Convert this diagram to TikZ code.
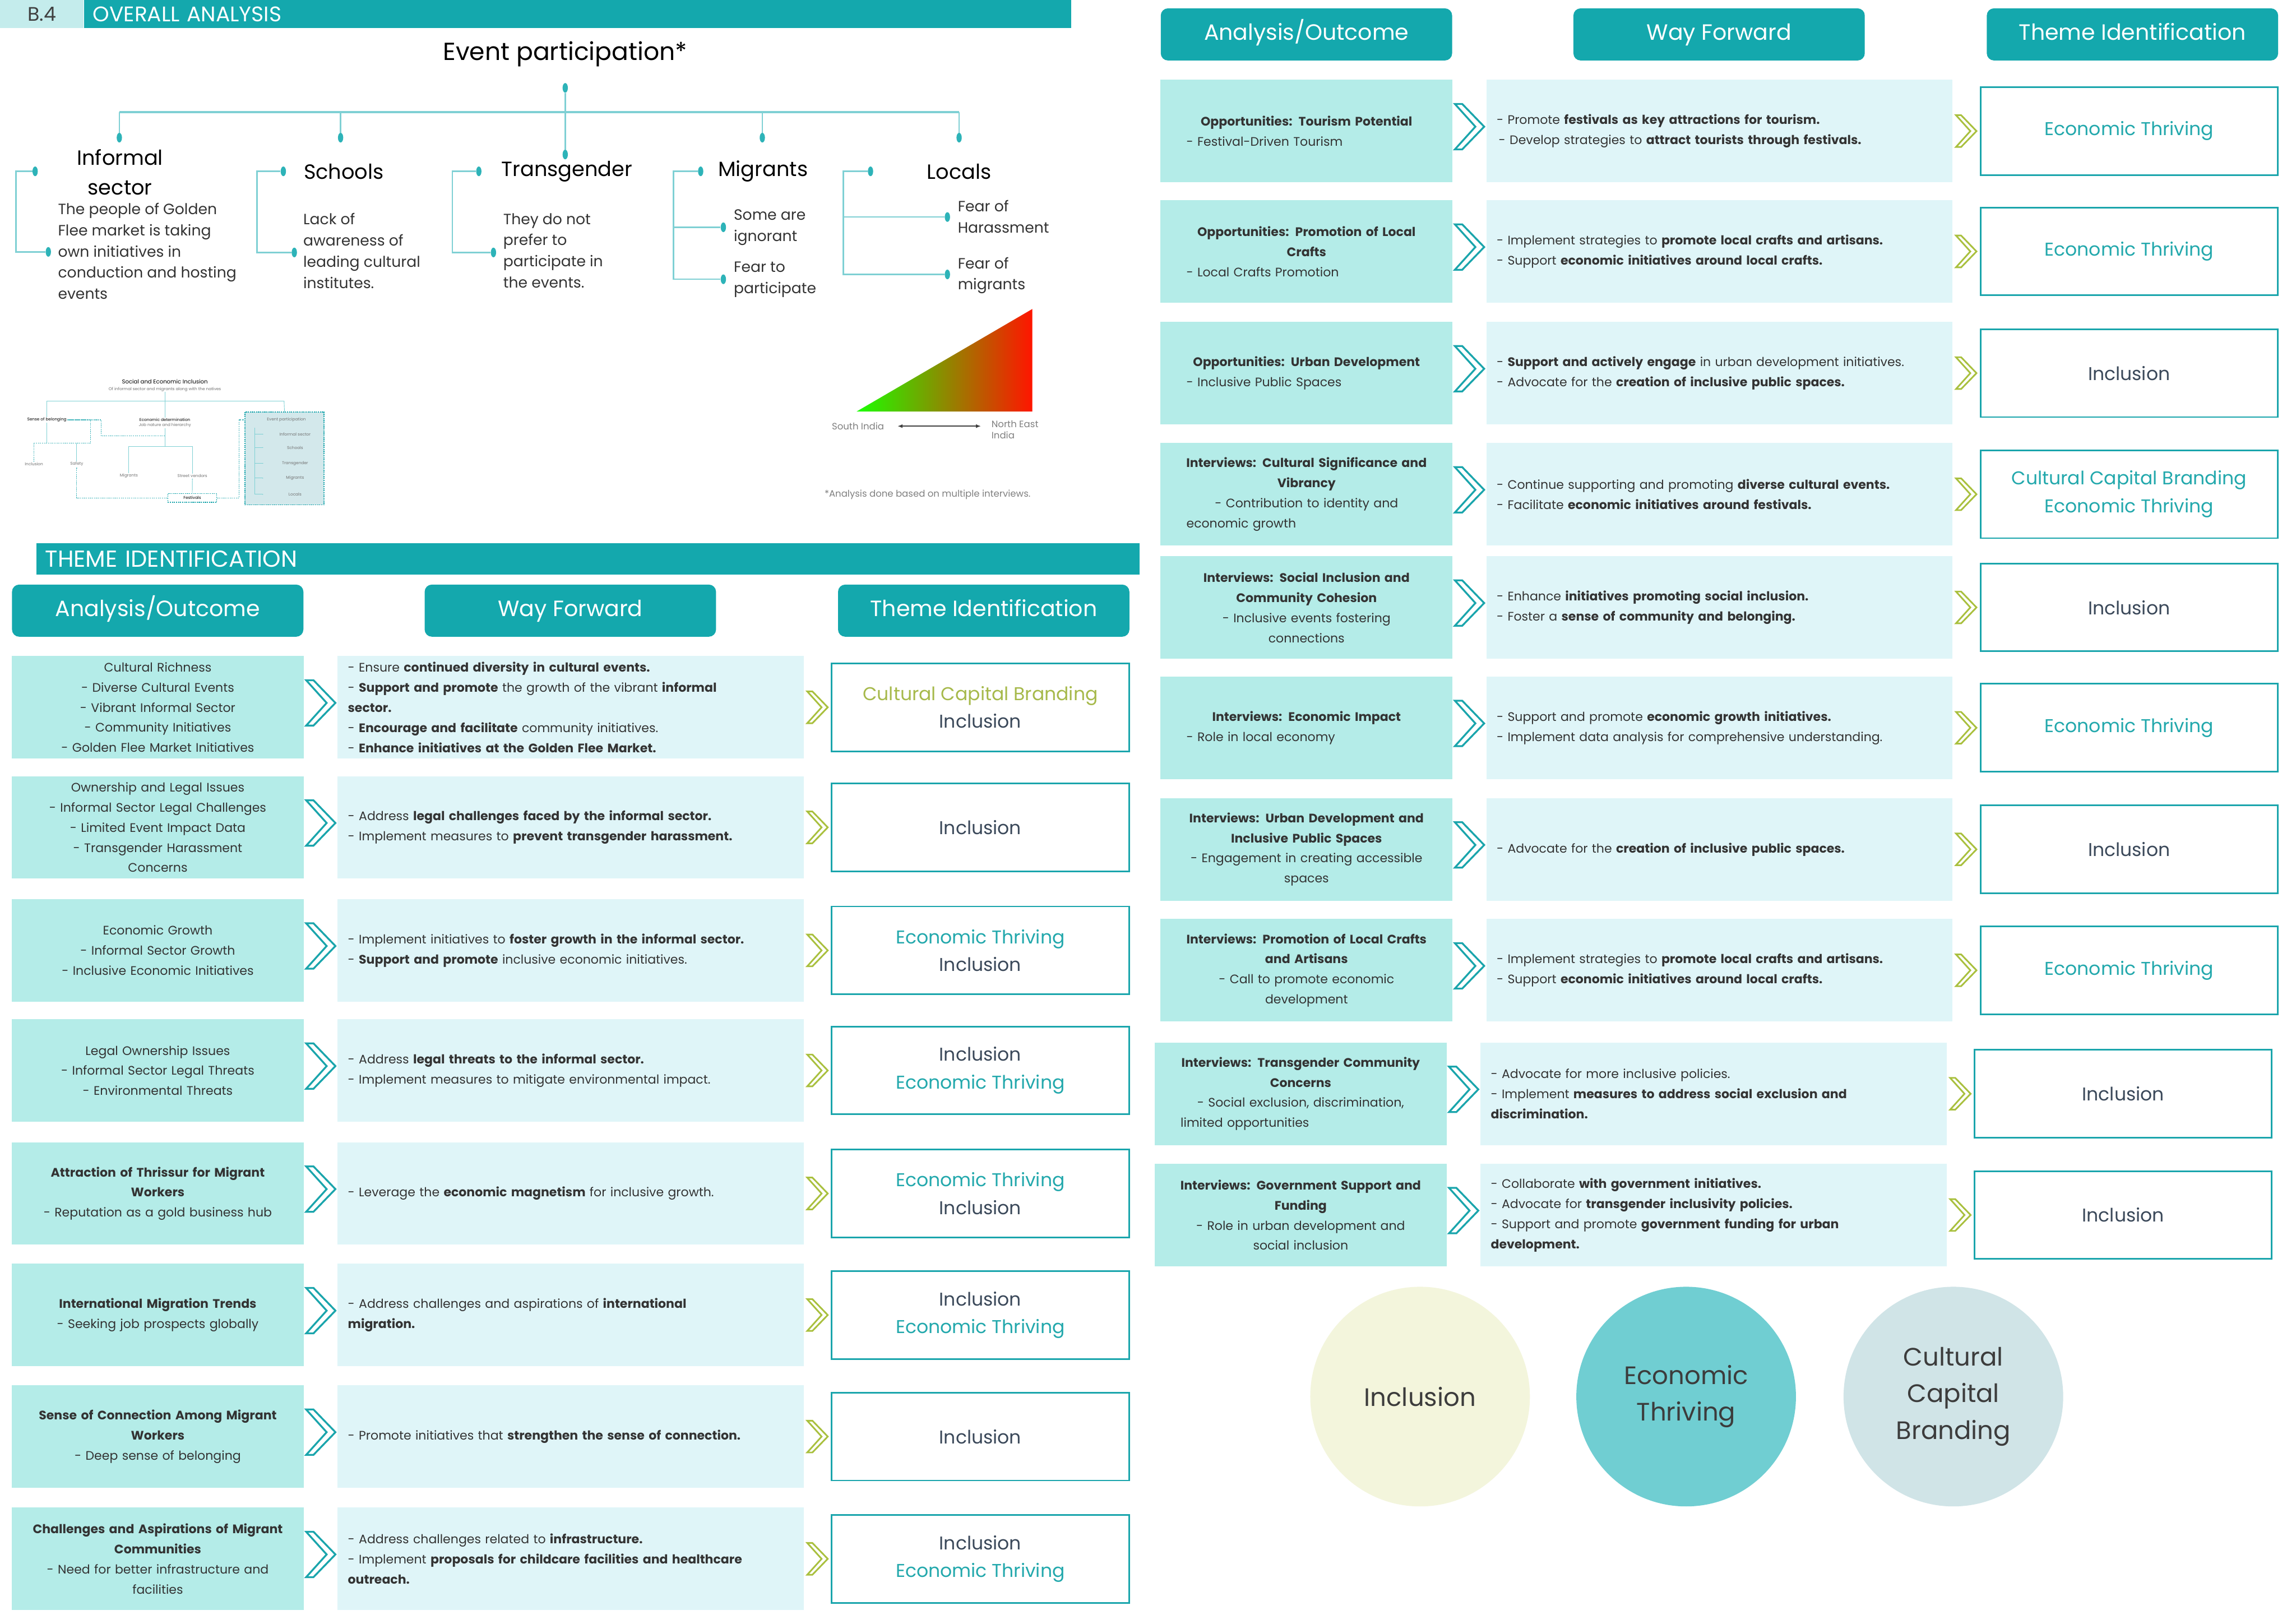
\documentclass[tikz,border=0pt]{standalone}
\usepackage{fontspec}
\setmainfont{Poppins}
\usetikzlibrary{arrows.meta,positioning,calc,shapes.geometric}

\definecolor{tealhead}{HTML}{14A8AD}
\definecolor{bcell}{HTML}{C4ECEC}
\definecolor{anfill}{HTML}{B4ECE8}
\definecolor{wayfill}{HTML}{DFF5F8}
\definecolor{tealline}{HTML}{1AA5AC}
\definecolor{olivechev}{HTML}{A9C03E}
\definecolor{ccbgreen}{HTML}{A6B94A}
\definecolor{inctext}{HTML}{3A4859}
\definecolor{ecotext}{HTML}{22A8AC}
\definecolor{treeln}{HTML}{7FD0D4}
\definecolor{treedot}{HTML}{2DB3B8}
\definecolor{bodytext}{HTML}{333333}
\definecolor{thumbfill}{HTML}{D3E8EB}
\definecolor{circinc}{HTML}{F3F5DC}
\definecolor{circeco}{HTML}{70CED2}
\definecolor{circccb}{HTML}{D0E4E7}
\definecolor{circtext}{HTML}{3C3C3C}
\definecolor{grnbright}{HTML}{1BFF00}
\definecolor{redbright}{HTML}{FF1500}

\newcommand{\tabfont}{\fontsize{12}{19.5}\selectfont}
\newcommand{\tInc}{\textcolor{inctext}{Inclusion}}
\newcommand{\tEco}{\textcolor{ecotext}{Economic Thriving}}
\newcommand{\tCcbG}{\textcolor{ccbgreen}{Cultural Capital Branding}}
\newcommand{\tCcbT}{\textcolor{ecotext}{Cultural Capital Branding}}
\newcommand{\leftln}[1]{\makebox[8.2cm][l]{#1}}

\tikzset{
  secbar/.style={fill=tealhead, text=white, anchor=north west, align=left,
    inner xsep=0.3cm, inner ysep=0pt},
  bcellbox/.style={fill=bcell, text=darkgray, anchor=north west, inner sep=0pt,
    minimum width=2.85cm, minimum height=0.95cm, font=\fontsize{19}{22}\selectfont},
  headbox/.style={fill=tealhead, rounded corners=7pt, text=white,
    minimum width=9.95cm, minimum height=1.78cm, text height=16pt, text depth=5pt,
    font=\fontsize{21.5}{25}\selectfont},
  anbox/.style={fill=anfill, minimum width=9.98cm, minimum height=3.5cm,
    text width=9.6cm, align=center, inner ysep=0pt, font=\tabfont, text=bodytext},
  waybox/.style={fill=wayfill, minimum width=15.92cm, minimum height=3.5cm,
    text width=15.22cm, align=left, inner ysep=0pt, font=\tabfont, text=bodytext},
  thbox/.style={draw=tealline, line width=1.6pt, fill=white, minimum width=10.15cm,
    minimum height=3cm, align=center, font=\fontsize{18}{27}\selectfont},
  tealchev/.style={draw=tealline, line width=1.8pt, fill=white},
  greenchev/.style={draw=olivechev, line width=1.6pt, fill=white},
  chevron/.pic={\path[pic actions] (-10,-15.5) -- (-5,-15.5) -- (10,0) -- (-5,15.5)
    -- (-10,15.5) -- (4,0) -- cycle;},
  treeline/.style={draw=treeln, line width=1.4pt},
  tdot/.style={ellipse, fill=treedot, minimum width=0.18cm, minimum height=0.33cm, inner sep=0pt},
  thead/.style={font=\fontsize{20}{29}\selectfont, text=black},
  tdesc/.style={font=\fontsize{14.5}{20.6}\selectfont, text=bodytext, align=left,
    anchor=north west, inner sep=0pt},
  thumbtxt/.style={font=\fontsize{4}{5}\selectfont, text=gray!90!black, inner sep=0.4pt},
  thumbln/.style={draw=treeln, line width=0.5pt},
  thumbdash/.style={draw=tealline!80, line width=0.6pt, dash pattern=on 1.2pt off 0.8pt},
  smallgray/.style={font=\fontsize{9}{11}\selectfont, text=gray, inner sep=0pt},
  themecirc/.style={circle, minimum size=7.5cm, inner sep=0pt, align=center,
    font=\fontsize{24.5}{35.5}\selectfont, text=circtext},
}

% one row of the theme table: id, y, analysis, way forward, theme
\newcommand{\themerow}[5]{%
  \node[anbox] (a#1) at (107.75,#2) {#3};
  \node[waybox] (w#1) at (389.8,#2) {#4};
  \node[thbox] (t#1) at (669.5,#2) {#5};
  \pic[tealchev] at ($(a#1.east)!0.5!(w#1.west)+(0,-3)$) {chevron};
  \pic[greenchev, scale=0.7] at ($(w#1.east)!0.5!(t#1.west)$) {chevron};
}

\begin{document}
\begin{tikzpicture}[x=0.05cm, y=-0.05cm]
  \useasboundingbox (0,0) rectangle (1568,1109);
  \fill[white] (0,0) rectangle (1568,1109);

  %% ---- B.4 overall analysis ----
  \node[bcellbox] (bcell) at (0,0) {B.4};
  \node[secbar, minimum height=0.95cm, text width=33.1cm,
    font=\fontsize{20.5}{23}\selectfont] (ovbar) at (bcell.north east) {OVERALL ANALYSIS};

  \node[font=\fontsize{24}{28}\selectfont] (evt) at (386,37) {Event participation*};

  \node[tdot] (d0)   at (386,60)    {};
  \node[tdot] (dinf) at (81.5,94)   {};
  \node[tdot] (dsch) at (232.6,94)  {};
  \node[tdot] (dtra) at (386,105.5) {};
  \node[tdot] (dmig) at (520.6,94)  {};
  \node[tdot] (dloc) at (655,94)    {};
  \coordinate (hl) at (81.5,76.5);
  \coordinate (hr) at (655,76.5);

  \draw[treeline, line width=2pt] (hl) -- (hr);
  \draw[treeline] (d0) -- (dtra);
  \foreach \d in {dinf,dsch,dmig,dloc}
    \draw[treeline] (\d) -- (\d |- hl);

  \node[thead, align=center] (hinf) at (82,117.5) {Informal\\sector};
  \node[thead, anchor=west] (hsch) at (205,117) {Schools};
  \node[thead, anchor=west] (htra) at (340,117) {Transgender};
  \node[thead, anchor=west] (hmig) at (488,117) {Migrants};
  \node[thead] (hloc) at (655,117) {Locals};

  % side brackets
  \node[tdot] (binf1) at (24,117) {};
  \node[tdot] (binf2) at (33,172) {};
  \draw[treeline] (binf1) -- ++(-13,0) |- (binf2);
  \node[tdot] (bsch1) at (193.5,117) {};
  \node[tdot] (bsch2) at (201,172.4) {};
  \draw[treeline] (bsch1) -- ++(-18,0) |- (bsch2);
  \node[tdot] (btra1) at (327,117) {};
  \node[tdot] (btra2) at (337,172.4) {};
  \draw[treeline] (btra1) -- ++(-18,0) |- (btra2);
  \node[tdot] (bmig0) at (478.5,117) {};
  \node[tdot] (bmig1) at (494,155.2) {};
  \node[tdot] (bmig2) at (494,190.7) {};
  \coordinate (bmigx) at (460,117);
  \draw[treeline] (bmig0) -- (bmigx) |- (bmig2);
  \draw[treeline] (bmigx |- bmig1) -- (bmig1);
  \node[tdot] (bloc0) at (594.5,117) {};
  \node[tdot] (bloc1) at (647,148.2) {};
  \node[tdot] (bloc2) at (647,187.4) {};
  \coordinate (blocx) at (576,117);
  \draw[treeline] (bloc0) -- (blocx) |- (bloc2);
  \draw[treeline] (blocx |- bloc1) -- (bloc1);

  \node[tdesc] (xinf) at (39.5,138.5) {The people of Golden\\Flee market is taking\\own initiatives in\\conduction and hosting\\events};
  \node[tdesc] (xsch) at (207,145.5) {Lack of\\awareness of\\leading cultural\\institutes.};
  \node[tdesc] (xtra) at (343.6,145.5) {They do not\\prefer to\\participate in\\the events.};
  \node[tdesc] (xmig1) at (501,143) {Some are\\ignorant};
  \node[tdesc] (xmig2) at (501,178.5) {Fear to\\participate};
  \node[tdesc] (xloc1) at (654,136.5) {Fear of\\Harassment};
  \node[tdesc] (xloc2) at (654,175.5) {Fear of\\migrants};

  %% ---- thumbnail of the framework ----
  \begin{scope}[every node/.style={thumbtxt}]
    \node[font=\fontsize{5.5}{6}\selectfont, text=black] (tsei) at (112.6,260.4) {Social and Economic Inclusion};
    \node (tsub) at (112.6,265.8) {Of informal sector and migrants along with the natives};
    \coordinate (tbl) at (32,273.8);
    \coordinate (tbr) at (194,273.8);
    \draw[thumbln] (tsub.south) -- (tsub.south |- tbl);
    \draw[thumbln] (tbl) -- (tbr);
    \node[text=black] (tsb) at (32,286.7) {Sense of belonging};
    \node[text=black] (ted) at (112.6,286.7) {Economic determination};
    \node (tjob) at (112.6,290.6) {Job nature and hierarchy};
    \node[draw=tealline, dash pattern=on 1.2pt off 0.8pt, line width=0.8pt, fill=thumbfill,
      minimum width=2.7cm, minimum height=3.175cm, anchor=north west] (tbox) at (167,281) {};
    \draw[thumbln] (tbl) -- (tsb.north);
    \draw[thumbln] (tsub.south |- tbl) -- (ted.north);
    \draw[thumbln] (tbr) -- (tbox.north);
    \node (tep) at (195.6,286.7) {Event participation};
    \node (ti1) at (201.5,296.5) {Informal sector};
    \node (ti2) at (201.5,305.6) {Schools};
    \node (ti3) at (201.5,316.4) {Transgender};
    \node (ti4) at (201.5,326.5) {Migrants};
    \node (ti5) at (201.5,337.6) {Locals};
    \coordinate (tvl) at (174,292);
    \draw[thumbln] (tvl) -- (tvl |- ti5);
    \foreach \i in {ti1,ti2,ti3,ti4,ti5}
      \draw[thumbln, -{Latex[length=1.2pt]}] (tvl |- \i) -- ++(6,0);
    % left branch
    \coordinate (tsbj) at (32,302.7);
    \coordinate (tsbr) at (61.7,302.7);
    \node (tinc) at (23.2,317) {Inclusion};
    \node (tsaf) at (52.4,317) {Safety};
    \draw[thumbln] (tsb.south) -- (tsbj);
    \draw[thumbdash] (tinc.north) |- (tsbr) |- (tsb.east);
    \draw[thumbln] (tsaf.north) -- (tsaf.north |- tsbj);
    \coordinate (tedd) at (112.6,297.8);
    \coordinate (tsbk) at (69,286.7);
    \draw[thumbdash, -{Latex[length=1.5pt]}] (tedd) -| (tsbk) -- (tsb.east);
    % middle branch
    \coordinate (tedj) at (112.6,305);
    \node (tmig) at (88,325) {Migrants};
    \node (tstv) at (131.4,325) {Street vendors};
    \draw[thumbln] (tjob.south) -- (tedj);
    \draw[thumbln] (tmig.north) |- (tedj) -| (tstv.north);
    \node[draw=tealline, dash pattern=on 1.2pt off 0.8pt, line width=0.8pt, fill=white,
      minimum width=1.675cm, minimum height=0.3cm, text=black] (tfes) at (131.3,340) {Festivals};
    \draw[thumbln, -{Latex[length=1.5pt]}] (tfes.north) -- (tstv.south);
    \draw[thumbdash, -{Latex[length=1.5pt]}] (tfes.west) -| (tsaf.south);
    \draw[thumbdash, -{Latex[length=1.5pt]}] (tfes.east) -- ++(15,0) |- (tbox.west |- tep);
  \end{scope}

  %% ---- gradient triangle ----
  \coordinate (tri1) at (585,281);
  \coordinate (tri2) at (705,281);
  \coordinate (tri3) at (705,211);
  \shade[left color=grnbright, right color=redbright] (tri1) -- (tri2) -- (tri3) -- cycle;
  \node[smallgray, anchor=west] (sind) at (568,291) {South India};
  \node[smallgray, anchor=north west, align=left] (nei) at (677,287) {North East\\India};
  \draw[{Latex[length=5pt]}-{Latex[length=5pt]}, line width=1.4pt, draw=darkgray]
    ($(sind.east)+(9,0)$) -- ($(sind.east -| nei.west)+(-7,0)$);
  \node[smallgray, anchor=west] (fnote) at (563,337.6) {*Analysis done based on multiple interviews.};

  %% ---- theme identification (left panel) ----
  \node[secbar, minimum height=1.075cm, text width=37.06cm,
    font=\fontsize{22.5}{25}\selectfont] (thbar) at (24.8,370.7) {THEME IDENTIFICATION};

  \node[headbox] (hAn)  at (107.7,417) {Analysis/Outcome};
  \node[headbox] (hWay) at (389.5,417) {Way Forward};
  \node[headbox] (hTh)  at (671.8,417) {Theme Identification};

  \themerow{l1}{483}
    {Cultural Richness\\- Diverse Cultural Events\\- Vibrant Informal Sector\\- Community Initiatives\\- Golden Flee Market Initiatives}
    {- Ensure \textbf{continued diversity in cultural events.}\\- \textbf{Support and promote} the growth of the vibrant \textbf{informal}\\\textbf{sector.}\\- \textbf{Encourage and facilitate} community initiatives.\\- \textbf{Enhance initiatives at the Golden Flee Market.}}
    {\tCcbG\\\tInc}
  \themerow{l2}{565}
    {Ownership and Legal Issues\\- Informal Sector Legal Challenges\\- Limited Event Impact Data\\- Transgender Harassment\\Concerns}
    {- Address \textbf{legal challenges faced by the informal sector.}\\- Implement measures to \textbf{prevent transgender harassment.}}
    {\tInc}
  \themerow{l3}{649}
    {Economic Growth\\- Informal Sector Growth\\- Inclusive Economic Initiatives}
    {- Implement initiatives to \textbf{foster growth in the informal sector.}\\- \textbf{Support and promote} inclusive economic initiatives.}
    {\tEco\\\tInc}
  \themerow{l4}{731}
    {Legal Ownership Issues\\- Informal Sector Legal Threats\\- Environmental Threats}
    {- Address \textbf{legal threats to the informal sector.}\\- Implement measures to mitigate environmental impact.}
    {\tInc\\\tEco}
  \themerow{l5}{815}
    {\textbf{Attraction of Thrissur for Migrant}\\\textbf{Workers}\\- Reputation as a gold business hub}
    {- Leverage the \textbf{economic magnetism} for inclusive growth.}
    {\tEco\\\tInc}
  \themerow{l6}{898}
    {\textbf{International Migration Trends}\\- Seeking job prospects globally}
    {- Address challenges and aspirations of \textbf{international}\\\textbf{migration.}}
    {\tInc\\\tEco}
  \themerow{l7}{981}
    {\textbf{Sense of Connection Among Migrant}\\\textbf{Workers}\\- Deep sense of belonging}
    {- Promote initiatives that \textbf{strengthen the sense of connection.}}
    {\tInc}
  \themerow{l8}{1064.5}
    {\textbf{Challenges and Aspirations of Migrant}\\\textbf{Communities}\\- Need for better infrastructure and\\facilities}
    {- Address challenges related to \textbf{infrastructure.}\\- Implement \textbf{proposals for childcare facilities and healthcare}\\\textbf{outreach.}}
    {\tInc\\\tEco}

  %% ---- theme identification (right panel) ----
  \begin{scope}[shift={(784.5,-393.5)}]
    \node[headbox] (rAn)  at (107.7,417) {Analysis/Outcome};
    \node[headbox] (rWay) at (389.5,417) {Way Forward};
    \node[headbox] (rTh)  at (671.8,417) {Theme Identification};

    \themerow{r1}{483}
      {\textbf{Opportunities: Tourism Potential}\\\leftln{- Festival-Driven Tourism}}
      {- Promote \textbf{festivals as key attractions for tourism.}\\\hspace*{2pt}- Develop strategies to \textbf{attract tourists through festivals.}}
      {\tEco}
    \themerow{r2}{565.2}
      {\textbf{Opportunities: Promotion of Local}\\\textbf{Crafts}\\\leftln{- Local Crafts Promotion}}
      {- Implement strategies to \textbf{promote local crafts and artisans.}\\- Support \textbf{economic initiatives around local crafts.}}
      {\tEco}
    \themerow{r3}{648.3}
      {\textbf{Opportunities: Urban Development}\\\leftln{- Inclusive Public Spaces}}
      {- \textbf{Support and actively engage} in urban development initiatives.\\- Advocate for the \textbf{creation of inclusive public spaces.}}
      {\tInc}
    \themerow{r4}{731}
      {\textbf{Interviews: Cultural Significance and}\\\textbf{Vibrancy}\\- Contribution to identity and\\\leftln{economic growth}}
      {- Continue supporting and promoting \textbf{diverse cultural events.}\\- Facilitate \textbf{economic initiatives around festivals.}}
      {\tCcbT\\\tEco}
    \themerow{r5}{808.3}
      {\textbf{Interviews: Social Inclusion and}\\\textbf{Community Cohesion}\\- Inclusive events fostering\\connections}
      {- Enhance \textbf{initiatives promoting social inclusion.}\\- Foster a \textbf{sense of community and belonging.}}
      {\tInc}
    \themerow{r6}{890.5}
      {\textbf{Interviews: Economic Impact}\\\leftln{- Role in local economy}}
      {- Support and promote \textbf{economic growth initiatives.}\\- Implement data analysis for comprehensive understanding.}
      {\tEco}
    \themerow{r7}{973.5}
      {\textbf{Interviews: Urban Development and}\\\textbf{Inclusive Public Spaces}\\- Engagement in creating accessible\\spaces}
      {- Advocate for the \textbf{creation of inclusive public spaces.}}
      {\tInc}
    \themerow{r8}{1056.1}
      {\textbf{Interviews: Promotion of Local Crafts}\\\textbf{and Artisans}\\- Call to promote economic\\development}
      {- Implement strategies to \textbf{promote local crafts and artisans.}\\- Support \textbf{economic initiatives around local crafts.}}
      {\tEco}
    \begin{scope}[shift={(-4,0)}]
      \themerow{r9}{1140.4}
        {\textbf{Interviews: Transgender Community}\\\textbf{Concerns}\\- Social exclusion, discrimination,\\\leftln{limited opportunities}}
        {- Advocate for more inclusive policies.\\- Implement \textbf{measures to address social exclusion and}\\\textbf{discrimination.}}
        {\tInc}
      \themerow{r10}{1223.2}
        {\textbf{Interviews: Government Support and}\\\textbf{Funding}\\- Role in urban development and\\social inclusion}
        {- Collaborate \textbf{with government initiatives.}\\- Advocate for \textbf{transgender inclusivity policies.}\\- Support and promote \textbf{government funding for urban}\\\textbf{development.}}
        {\tInc}
    \end{scope}
  \end{scope}

  %% ---- theme circles ----
  \node[themecirc, fill=circinc] (cinc) at (969.8,953.7) {Inclusion};
  \node[themecirc, fill=circeco] (ceco) at (1151.5,953.7) {Economic\\Thriving};
  \node[themecirc, fill=circccb] (cccb) at (1334,953.7) {Cultural\\Capital\\Branding};

\end{tikzpicture}
\end{document}
